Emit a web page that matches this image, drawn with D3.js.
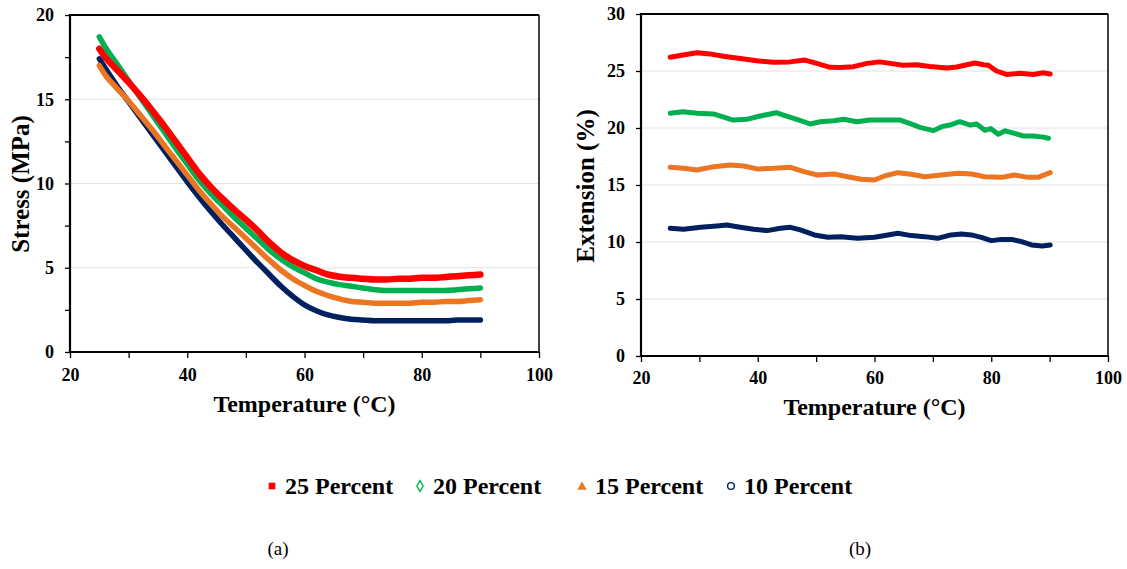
<!DOCTYPE html>
<html>
<head>
<meta charset="utf-8">
<script src="https://cdn.jsdelivr.net/npm/d3@7"></script>
<style>
  body { margin: 0; background: #fff; }
  svg text { font-family: "Liberation Serif", "Times New Roman", Times, serif; }
</style>
</head>
<body>
<svg width="1127" height="569"></svg>
<script>
// panel (a): stress vs temperature, same temperatures for every series
const stressTemp = [25, 26, 28, 30, 32, 34, 36, 38, 40, 42, 44, 46, 48, 50, 52, 54, 56, 58, 60, 62, 64, 66, 68, 70, 72, 74, 76, 78, 80, 82, 84, 86, 88, 90]
const stress25 = [18.0, 17.5, 16.75, 16.0, 15.2, 14.35, 13.45, 12.5, 11.55, 10.6, 9.8, 9.1, 8.45, 7.85, 7.2, 6.5, 5.9, 5.45, 5.1, 4.85, 4.6, 4.47, 4.4, 4.35, 4.3, 4.3, 4.35, 4.35, 4.4, 4.4, 4.45, 4.5, 4.55, 4.6]
const stress20 = [18.7, 18.1, 17.1, 16.1, 15.1, 14.1, 13.1, 12.1, 11.15, 10.2, 9.4, 8.7, 8.0, 7.35, 6.7, 6.05, 5.5, 5.05, 4.7, 4.35, 4.15, 4.0, 3.9, 3.8, 3.7, 3.65, 3.65, 3.65, 3.65, 3.65, 3.65, 3.7, 3.75, 3.8]
const stress15 = [17.0, 16.45, 15.65, 14.9, 14.05, 13.2, 12.3, 11.4, 10.5, 9.6, 8.8, 8.05, 7.4, 6.75, 6.1, 5.45, 4.85, 4.35, 3.95, 3.6, 3.35, 3.15, 3.0, 2.95, 2.9, 2.9, 2.9, 2.9, 2.95, 2.95, 3.0, 3.0, 3.05, 3.1]
const stress10 = [17.4, 16.85, 15.8, 14.85, 13.9, 12.95, 12.0, 11.05, 10.1, 9.2, 8.35, 7.55, 6.8, 6.05, 5.3, 4.6, 3.9, 3.3, 2.8, 2.45, 2.2, 2.05, 1.95, 1.9, 1.85, 1.85, 1.85, 1.85, 1.85, 1.85, 1.85, 1.9, 1.9, 1.9]

// panel (b): extension vs temperature, [temperature, extension %]
const ext25 = [[25, 26.2], [27.2, 26.4], [29.6, 26.6], [31.8, 26.5], [34.1, 26.3], [37, 26.1], [39.8, 25.9], [42.7, 25.76], [45.5, 25.8], [48.1, 25.96], [50.1, 25.67], [52.4, 25.32], [54.1, 25.3], [56.4, 25.38], [58.7, 25.67], [60.9, 25.8], [62.7, 25.67], [64.9, 25.5], [67.2, 25.55], [69.5, 25.4], [72.4, 25.26], [74.1, 25.35], [75.8, 25.55], [77.2, 25.7], [78.7, 25.55], [79.5, 25.5], [80.9, 25.0], [82.6, 24.7], [84.9, 24.8], [87.2, 24.7], [88.9, 24.85], [90.1, 24.73]]
const ext20 = [[25, 21.29], [27.2, 21.43], [29.6, 21.3], [32.4, 21.23], [35.8, 20.7], [38.1, 20.76], [40.4, 21.05], [43.2, 21.34], [44.4, 21.14], [46.7, 20.76], [49, 20.35], [50.7, 20.55], [53, 20.64], [54.7, 20.76], [57, 20.55], [59.2, 20.7], [64.4, 20.7], [66, 20.41], [67.8, 20.06], [70.1, 19.77], [71.5, 20.12], [72.9, 20.26], [74.6, 20.55], [76.4, 20.26], [77.5, 20.35], [78.9, 19.8], [79.9, 19.95], [81.2, 19.45], [82.4, 19.75], [83.8, 19.55], [85.5, 19.3], [87.2, 19.3], [88.9, 19.2], [89.8, 19.1]]
const ext15 = [[25, 16.55], [27.3, 16.46], [29.6, 16.32], [32.5, 16.61], [35.3, 16.76], [37.6, 16.67], [39.9, 16.41], [42.8, 16.46], [45.6, 16.55], [47.9, 16.17], [50.2, 15.88], [53.1, 15.97], [55.4, 15.73], [57.7, 15.5], [60, 15.44], [61.7, 15.79], [64, 16.08], [66.3, 15.94], [68.6, 15.73], [71.4, 15.88], [74.3, 16.03], [76.6, 15.97], [78.9, 15.73], [81.8, 15.67], [84, 15.88], [86.3, 15.67], [88, 15.67], [90.1, 16.08]]
const ext10 = [[25, 11.2], [27.3, 11.11], [30.2, 11.29], [33, 11.41], [34.7, 11.49], [37, 11.29], [39.3, 11.11], [41.6, 11.0], [43.9, 11.2], [45.6, 11.29], [47.3, 11.06], [49.7, 10.62], [52, 10.41], [54.2, 10.47], [57.1, 10.32], [60, 10.41], [62.3, 10.62], [64, 10.76], [66.3, 10.56], [68.6, 10.47], [70.8, 10.32], [73.1, 10.62], [74.9, 10.7], [76.6, 10.62], [78.3, 10.41], [80, 10.12], [81.8, 10.23], [83.5, 10.23], [85.2, 10.03], [86.9, 9.74], [88.7, 9.65], [90.1, 9.74]]

const seriesNames = ['25 Percent', '20 Percent', '15 Percent', '10 Percent']
const colors = ['#ff0000', '#00b050', '#eb7521', '#002060']
const serif = '"Liberation Serif", "Times New Roman", Times, serif'

const svg = d3.select('svg')

function drawPanel(p) {
  const x = d3.scaleLinear().domain([20, 100]).range([p.left, p.right])
  const y = d3.scaleLinear().domain([0, p.yMax]).range([p.bottom, p.top])
  const g = svg.append('g')

  g.selectAll('line.grid')
    .data(d3.range(5, p.yMax, 5))
    .join('line')
    .attr('x1', p.left).attr('x2', p.right)
    .attr('y1', d => y(d)).attr('y2', d => y(d))
    .attr('stroke', '#e2e2e2')
    .attr('stroke-width', 1)

  const line = d3.line()
    .x(d => x(d[0]))
    .y(d => y(d[1]))
    .curve(p.curve)

  // draw bottom series first so the 25% one sits on top
  p.series.slice().reverse().forEach((s, i) => {
    const idx = p.series.length - 1 - i
    g.append('path')
      .datum(s)
      .attr('d', line)
      .attr('fill', 'none')
      .attr('stroke', colors[idx])
      .attr('stroke-width', p.widths[idx])
      .attr('stroke-linejoin', 'round')
      .attr('stroke-linecap', 'round')
  })

  const yAxis = d3.axisLeft(y)
    .tickValues(d3.range(0, p.yMax + 0.01, p.yStep))
    .tickFormat(d => d % 5 === 0 ? d : '')
    .tickSize(5)
    .tickPadding(11)
  const xAxis = d3.axisBottom(x)
    .tickValues(d3.range(20, 101, 10))
    .tickFormat(d => d % 20 === 0 ? d : '')
    .tickSize(6)
    .tickPadding(p.xPad)

  const ya = g.append('g').attr('transform', `translate(${p.left},0)`).call(yAxis)
  const xa = g.append('g').attr('transform', `translate(0,${p.bottom})`).call(xAxis)
  ;[ya, xa].forEach(a => {
    a.attr('font-family', serif).attr('font-size', 18)
    a.select('.domain').remove()
    a.selectAll('line').attr('stroke', '#000').attr('stroke-width', 1.3)
    a.selectAll('text')
      .attr('fill', '#000')
      .style('font-size', '18px')
      .style('font-weight', 'bold')
      .style('font-family', serif)
  })

  // frame
  g.append('line').attr('x1', p.left).attr('x2', p.right).attr('y1', p.top).attr('y2', p.top)
    .attr('stroke', '#000').attr('stroke-width', 1.8)
  g.append('line').attr('x1', p.right).attr('x2', p.right).attr('y1', p.top).attr('y2', p.bottom)
    .attr('stroke', '#000').attr('stroke-width', 1.5)
  g.append('line').attr('x1', p.left).attr('x2', p.left).attr('y1', p.top - 1).attr('y2', p.bottom + 1)
    .attr('stroke', '#000').attr('stroke-width', 2.2)
  g.append('line').attr('x1', p.left).attr('x2', p.right).attr('y1', p.bottom).attr('y2', p.bottom)
    .attr('stroke', '#000').attr('stroke-width', 2)

  g.append('text')
    .attr('x', (p.left + p.right) / 2)
    .attr('y', p.xTitleY)
    .attr('text-anchor', 'middle')
    .style('font-size', '24px')
    .style('font-weight', 'bold')
    .text('Temperature (°C)')

  g.append('text')
    .attr('transform', `translate(${p.yTitleX},${p.yTitleMid}) rotate(-90)`)
    .attr('text-anchor', 'middle')
    .style('font-size', '25px')
    .style('font-weight', 'bold')
    .text(p.yTitle)

  g.append('text')
    .attr('x', p.captionX)
    .attr('y', 555)
    .attr('text-anchor', 'middle')
    .style('font-size', '19px')
    .text(p.caption)
}

const stressSeries = [stress25, stress20, stress15, stress10].map(vals => stressTemp.map((t, i) => [t, vals[i]]))

drawPanel({
  left: 70, right: 539, top: 15, bottom: 352,
  yMax: 20, yStep: 2.5, xPad: 10,
  series: stressSeries, widths: [6.5, 5.5, 5.5, 5.5],
  curve: d3.curveMonotoneX,
  xTitleY: 412, yTitle: 'Stress (MPa)', yTitleX: 29, yTitleMid: 184,
  caption: '(a)', captionX: 278
})

drawPanel({
  left: 641, right: 1108, top: 14, bottom: 356,
  yMax: 30, yStep: 5, xPad: 9,
  series: [ext25, ext20, ext15, ext10], widths: [5, 5, 5, 5],
  curve: d3.curveLinear,
  xTitleY: 415, yTitle: 'Extension (%)', yTitleX: 594, yTitleMid: 186,
  caption: '(b)', captionX: 860
})

// legend
const legendX = [272, 420, 582, 731]
const legend = svg.append('g')
const symbolTypes = [d3.symbolSquare, d3.symbolDiamond, d3.symbolTriangle, d3.symbolCircle]
seriesNames.forEach((name, i) => {
  const hollow = i === 1 || i === 3
  legend.append('path')
    .attr('transform', `translate(${legendX[i]},${i === 2 ? 487 : 486})`)
    .attr('d', d3.symbol().type(symbolTypes[i]).size(i === 1 ? 34 : i === 2 ? 38 : i === 3 ? 36 : 44)())
    .attr('fill', hollow ? 'none' : colors[i])
    .attr('stroke', colors[i])
    .attr('stroke-width', hollow ? 1.4 : 0)
  legend.append('text')
    .attr('x', legendX[i] + 13)
    .attr('y', 494)
    .style('font-size', '24px')
    .style('font-weight', 'bold')
    .text(name)
})
</script>
</body>
</html>
